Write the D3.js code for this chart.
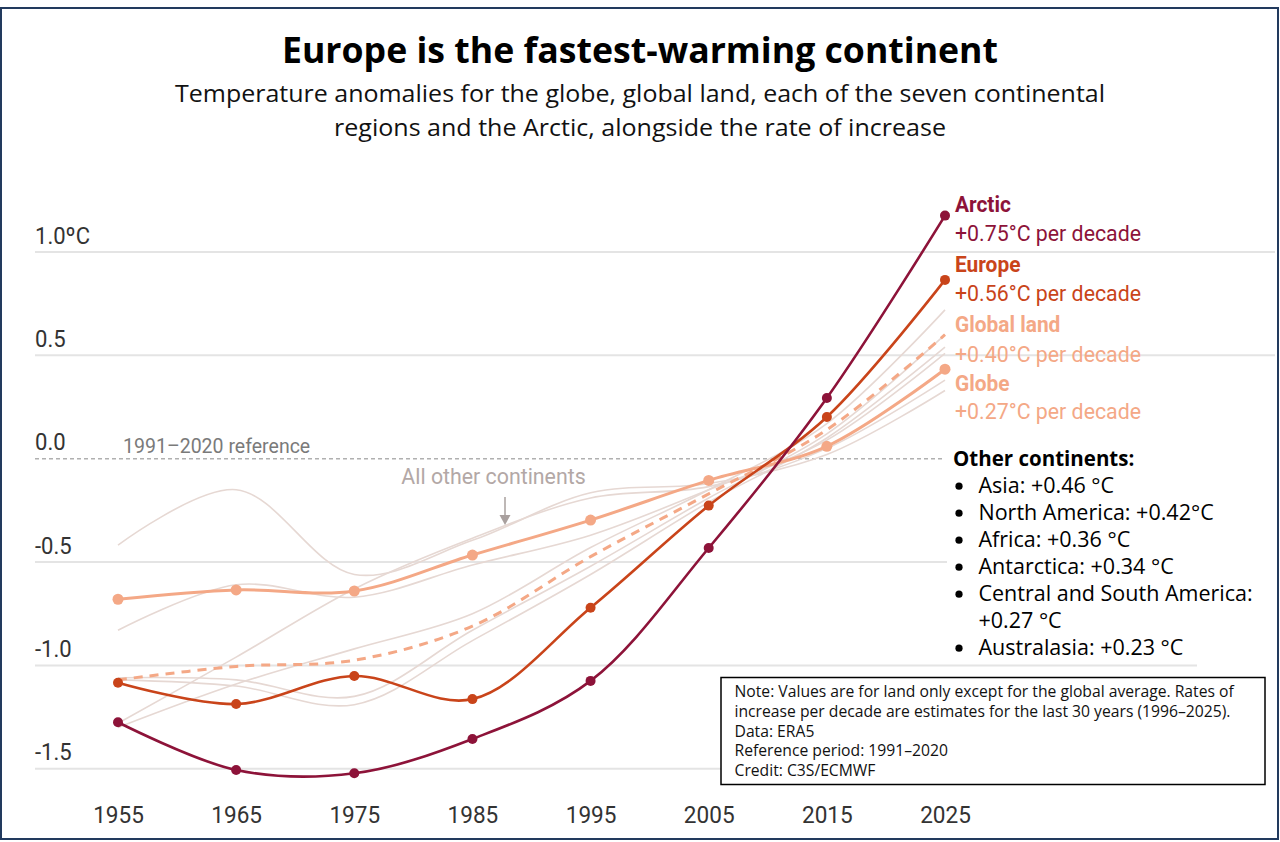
<!DOCTYPE html>
<html><head><meta charset="utf-8">
<script src="https://cdn.jsdelivr.net/npm/d3@7"></script>
<style>
html,body{margin:0;padding:0;background:#fff;}
svg{display:block;}
</style></head>
<body>
<svg id="chart" width="1280" height="842"></svg>
<script>
// ---------- data ----------
const years = [1955, 1965, 1975, 1985, 1995, 2005, 2015, 2025];
const arctic      = [-1.275, -1.506, -1.522, -1.356, -1.075, -0.432, 0.294, 1.176];
const europe      = [-1.084, -1.187, -1.051, -1.163, -0.721, -0.227, 0.202, 0.865];
const globe       = [-0.680, -0.635, -0.640, -0.466, -0.297, -0.105, 0.060, 0.433];
const globalLand  = [-1.070, -1.005, -0.975, -0.810, -0.474, -0.170, 0.140, 0.600];
const asia        = [-1.300, -1.090, -0.920, -0.750, -0.430, -0.150, 0.170, 0.720];
const northAmerica= [-1.060, -1.070, -1.150, -0.830, -0.520, -0.190, 0.120, 0.600];
const africa      = [-1.070, -1.100, -1.190, -0.880, -0.560, -0.210, 0.100, 0.540];
const antarctica  = [-0.418, -0.150, -0.560, -0.395, -0.165, -0.120, 0.020, 0.330];
const csAmerica   = [-0.830, -0.610, -0.670, -0.514, -0.370, -0.150, 0.090, 0.510];
const australasia = [-1.280, -0.960, -0.630, -0.385, -0.190, -0.135, 0.050, 0.380];
const otherSeries = [asia, northAmerica, africa, antarctica, csAmerica, australasia];

const yTicks = [1.0, 0.5, 0.0, -0.5, -1.0, -1.5];
const yTickLabels = ["1.0ºC", "0.5", "0.0", "-0.5", "-1.0", "-1.5"];

const mainLabels = [
  {name: "Arctic",      rate: "+0.75°C per decade"},
  {name: "Europe",      rate: "+0.56°C per decade"},
  {name: "Global land", rate: "+0.40°C per decade"},
  {name: "Globe",       rate: "+0.27°C per decade"}
];
const otherContinents = [
  ["Asia: +0.46 °C"],
  ["North America: +0.42°C"],
  ["Africa: +0.36 °C"],
  ["Antarctica: +0.34 °C"],
  ["Central and South America:", "+0.27 °C"],
  ["Australasia: +0.23 °C"]
];
const noteLines = [
  "Note: Values are for land only except for the global average. Rates of",
  "increase per decade are estimates for the last 30 years (1996–2025).",
  "Data: ERA5",
  "Reference period: 1991–2020",
  "Credit: C3S/ECMWF"
];
const titleText = "Europe is the fastest-warming continent";
const subtitleLines = [
  "Temperature anomalies for the globe, global land, each of the seven continental",
  "regions and the Arctic, alongside the rate of increase"
];

// ---------- styling ----------
const C_ARCTIC = "#8d1339", C_EUROPE = "#c9441a", C_GLOBE = "#f4a886", C_GREY = "#e6d8d3";
const COND = "Roboto, sans-serif";
const SANS = "'Open Sans', Lato, sans-serif";

const svg = d3.select("#chart");
const x = d3.scaleLinear().domain([1955, 2025]).range([118, 945]);
const y = d3.scaleLinear().domain([0, 1]).range([458.7, 252]);

// border
svg.append("rect").attr("x", 1).attr("y", 8).attr("width", 1277).attr("height", 831)
  .attr("fill", "#fff").attr("stroke", "#223a5e").attr("stroke-width", 2);

// title
svg.append("text").attr("x", 640).attr("y", 63).attr("text-anchor", "middle")
  .attr("font-family", SANS).attr("font-weight", 700).attr("font-size", 35).attr("fill", "#000")
  .attr("textLength", 716).attr("lengthAdjust", "spacingAndGlyphs")
  .text(titleText);
const subLen = [930, 612];
svg.selectAll(".sub").data(subtitleLines).join("text").attr("class", "sub")
  .attr("x", 640).attr("y", (d, i) => 101.5 + i * 34.5).attr("text-anchor", "middle")
  .attr("font-family", SANS).attr("font-size", 23.5).attr("fill", "#111")
  .attr("textLength", (d, i) => subLen[i]).attr("lengthAdjust", "spacingAndGlyphs")
  .text(d => d);

// gridlines
svg.append("g").selectAll("line").data(yTicks.filter(d => d !== 0)).join("line")
  .attr("x1", 35).attr("x2", d => d >= 0.5 ? 1275 : 1197)
  .attr("y1", d => y(d)).attr("y2", d => y(d))
  .attr("stroke", "#e4e4e4").attr("stroke-width", 2);
// zero reference line
svg.append("line").attr("x1", 35).attr("x2", 945).attr("y1", y(0)).attr("y2", y(0))
  .attr("stroke", "#b0b0b0").attr("stroke-width", 1.5).attr("stroke-dasharray", "4,3");

// y axis labels
const yAxis = svg.append("g").attr("transform", "translate(35,0)")
  .call(d3.axisLeft(y).tickValues(yTicks).tickFormat((d, i) => yTickLabels[i]).tickSize(0));
yAxis.select(".domain").remove();
yAxis.selectAll("text").attr("x", 0).attr("y", -9).attr("dy", 0).attr("text-anchor", "start")
  .attr("font-family", COND).attr("font-size", 24).attr("fill", "#333")
  .attr("transform", "scale(0.92,1)");

// x axis labels
const xAxis = svg.append("g").attr("transform", "translate(0,823)")
  .call(d3.axisBottom(x).tickValues(years).tickFormat(d3.format("d")).tickSize(0));
xAxis.select(".domain").remove();
xAxis.selectAll("text").attr("y", 0).attr("dy", 0)
  .attr("font-family", COND).attr("font-size", 24).attr("fill", "#333")
  .attr("transform", "scale(0.94,1)");

// reference label
svg.append("g").attr("transform", "translate(123,452.5)").append("text")
  .attr("font-family", COND).attr("font-size", 21).attr("fill", "#7a7a7a")
  .attr("transform", "scale(0.93,1)").text("1991–2020 reference");

// lines
const line = d3.line().x((d, i) => x(years[i])).y(d => y(d)).curve(d3.curveCatmullRom);

svg.append("g").selectAll("path").data(otherSeries).join("path")
  .attr("d", line).attr("fill", "none").attr("stroke", C_GREY).attr("stroke-width", 1.6);

svg.append("path").attr("d", line(globalLand)).attr("fill", "none")
  .attr("stroke", C_GLOBE).attr("stroke-width", 3).attr("stroke-dasharray", "9,7");

function drawMain(data, color, w, r) {
  svg.append("path").attr("d", line(data)).attr("fill", "none")
    .attr("stroke", color).attr("stroke-width", w);
  svg.append("g").selectAll("circle").data(data).join("circle")
    .attr("cx", (d, i) => x(years[i])).attr("cy", d => y(d)).attr("r", r).attr("fill", color);
}
drawMain(globe, C_GLOBE, 3, 5.5);
drawMain(europe, C_EUROPE, 2.6, 5);
drawMain(arctic, C_ARCTIC, 2.6, 5);

// annotation "All other continents"
svg.append("g").attr("transform", "translate(493.5,483.5)").append("text")
  .attr("text-anchor", "middle").attr("font-family", COND).attr("font-size", 22).attr("fill", "#b3a8a6")
  .attr("transform", "scale(0.97,1)").text("All other continents");
svg.append("line").attr("x1", 505).attr("x2", 505).attr("y1", 497).attr("y2", 516)
  .attr("stroke", "#a9a09e").attr("stroke-width", 1.5);
svg.append("path").attr("d", "M499.5,515 L510.5,515 L505,525 Z").attr("fill", "#a9a09e");

// series labels
const labelColors = [C_ARCTIC, C_EUROPE, C_GLOBE, C_GLOBE];
const nameBase = [212, 272, 332, 391];
const rateBase = [240.5, 300.5, 361.5, 418.5];
mainLabels.forEach((d, i) => {
  svg.append("g").attr("transform", `translate(955,${nameBase[i]})`).append("text")
    .attr("font-family", COND).attr("font-weight", 700).attr("font-size", 22).attr("fill", labelColors[i])
    .attr("transform", "scale(0.95,1)").text(d.name);
  svg.append("g").attr("transform", `translate(955,${rateBase[i]})`).append("text")
    .attr("font-family", COND).attr("font-size", 22).attr("fill", labelColors[i])
    .attr("transform", "scale(0.97,1)").text(d.rate);
});

// other continents list
svg.append("rect").attr("x", 947).attr("y", 443).attr("width", 329).attr("height", 216).attr("fill", "#fff");
svg.append("text").attr("x", 953).attr("y", 466).attr("font-family", SANS).attr("font-weight", 700)
  .attr("font-size", 20.5).attr("fill", "#000").text("Other continents:");
let row = 0;
otherContinents.forEach(item => {
  const by = 492.7 + row * 27;
  svg.append("circle").attr("cx", 959).attr("cy", by - 6.5).attr("r", 3.6).attr("fill", "#000");
  item.forEach((t, k) => {
    svg.append("text").attr("x", 978.5).attr("y", 492.7 + (row + k) * 27)
      .attr("font-family", SANS).attr("font-size", 21.5).attr("fill", "#000").text(t);
  });
  row += item.length;
});

// note box
svg.append("rect").attr("x", 721).attr("y", 677.5).attr("width", 544).attr("height", 107)
  .attr("fill", "#fff").attr("stroke", "#000").attr("stroke-width", 1.5);
svg.selectAll(".note").data(noteLines).join("text").attr("class", "note")
  .attr("x", 734.5).attr("y", (d, i) => 696.7 + i * 19.9)
  .attr("font-family", SANS).attr("font-size", 15.7).attr("fill", "#111").text(d => d);
</script>
</body></html>
